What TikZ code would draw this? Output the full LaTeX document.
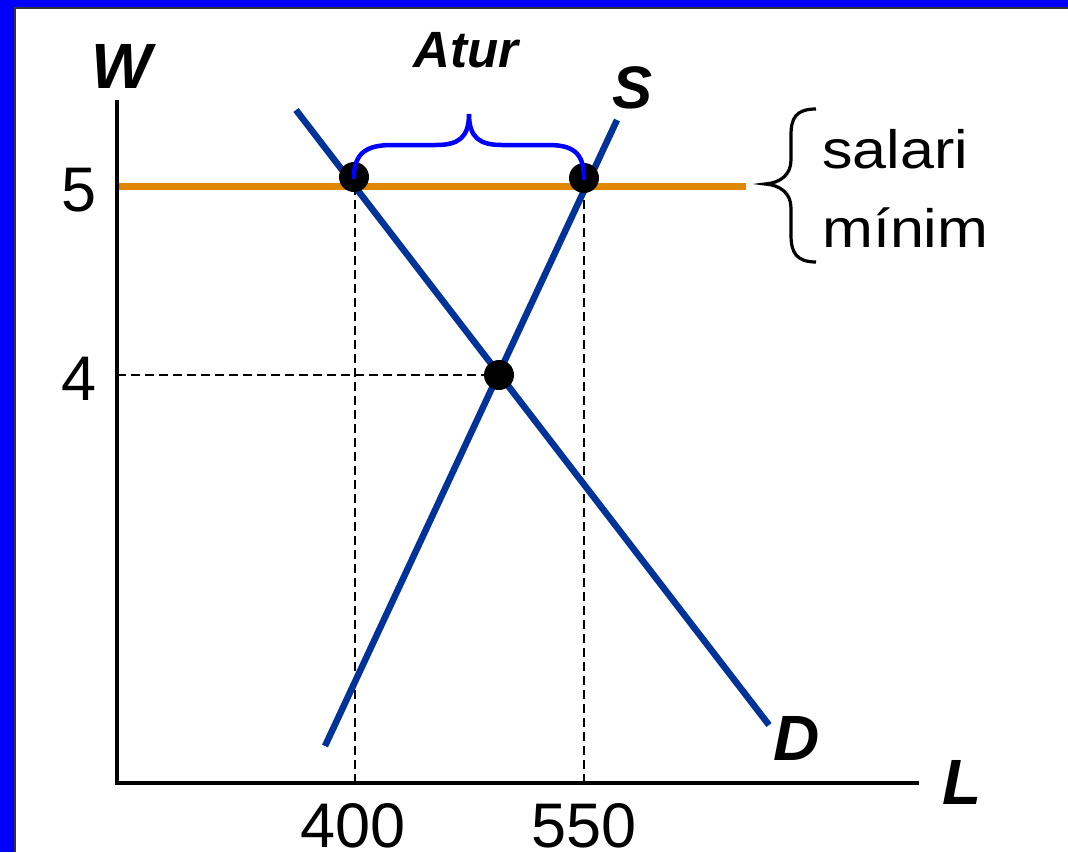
\documentclass[tikz,border=0pt]{standalone}
\usepackage{fontspec}
\setmainfont{Liberation Sans}
\definecolor{curveblue}{HTML}{003399}
\definecolor{minorange}{HTML}{E08700}
\definecolor{bracketblue}{HTML}{0000FF}
\definecolor{frameblue}{HTML}{0000FF}
\tikzset{
  axisline/.style={line width=3.2pt, black},
  curve/.style={line width=6.5pt, curveblue},
  guide/.style={line width=1.5pt, black, dash pattern=on 9pt off 5pt},
  dot/.style={circle, fill=black, inner sep=0pt, minimum size=30pt},
  biglabel/.style={font=\fontsize{64}{70}\selectfont\bfseries\itshape, anchor=base, inner sep=0pt},
  numlabel/.style={font=\fontsize{63}{70}\selectfont, anchor=base, inner sep=0pt},
}
\begin{document}
\begin{tikzpicture}[x=1pt,y=-1pt]
\useasboundingbox (0,0) rectangle (1068,852);
\fill[white] (0,0) rectangle (1068,852);
% frame
\fill[frameblue] (0,0) rectangle (14,852);
\fill[frameblue] (0,0) rectangle (1068,7);
\draw[line width=2pt, black!80] (15,852) -- (15,8) -- (1068,8);

% coordinates
\coordinate (origin) at (117,783);
\coordinate (ytop) at (117,100);
\coordinate (xend) at (919,783);
\coordinate (dtop) at (296,110);
\coordinate (dbot) at (769,725);
\coordinate (sbot) at (325,746);
\coordinate (stop) at (617,120);
\coordinate (wminL) at (117,186);
\coordinate (wminR) at (746,186);
\coordinate (y4) at (117,375);
\coordinate (x400) at (355,783);
\coordinate (x550) at (584,783);

% guides
\draw[guide] (x400) -- (355,178);
\draw[guide] (x550) -- (584,178);
\draw[guide] (y4) -- (499,375);

% minimum wage line
\draw[line width=7pt, minorange] (wminL) -- (wminR);

% curves
\draw[curve] (dtop) -- (dbot);
\draw[curve] (sbot) -- (stop);

% axes
\draw[axisline] (ytop) -- (origin) -- (xend);

% dots
\node[dot] (p1) at (354,177) {};
\node[dot] (p2) at (584,178) {};
\node[dot] (eq) at (499,375) {};

% unemployment brace
\draw[line width=4.5pt, bracketblue, line cap=round]
  (p1.center) .. controls (354,152) and (368,145) .. (392,145)
  -- (436,145) .. controls (458,145) and (469,138) .. (469,114)
  .. controls (469,138) and (480,145) .. (502,145)
  -- (548,145) .. controls (572,145) and (584,152) .. (p2.center);

% wage bracket
\draw[line width=3.2pt, black]
  (816,109) .. controls (796,109) and (791,118) .. (791,135)
  -- (791,160) .. controls (791,175) and (780,183) .. (765,184)
  .. controls (780,185) and (791,193) .. (791,208)
  -- (791,235) .. controls (791,252) and (796,262) .. (816,262);

% labels
\node[biglabel] (W) at (122,88) {W};
\node[biglabel] (L) at (962,804) {L};
\node[biglabel, font=\fontsize{60}{70}\selectfont\bfseries\itshape] (S) at (633,108) {S};
\node[biglabel] (D) at (797,760) {D};
\node[biglabel, font=\fontsize{51}{60}\selectfont\bfseries\itshape] (atur) at (466,67) {Atur};
\node[numlabel] (five) at (79,211) {5};
\node[numlabel] (four) at (79,400) {4};
\node[numlabel] (n400) at (353,847) {400};
\node[numlabel] (n550) at (584,847) {550};
\node[anchor=base west, inner sep=0pt, font=\fontsize{54}{60}\selectfont, xscale=1.13, transform shape] (sal) at (822,168) {salari};
\node[anchor=base west, inner sep=0pt, font=\fontsize{54}{60}\selectfont, xscale=1.13, transform shape] (min) at (822,247) {mínim};
\end{tikzpicture}
\end{document}
